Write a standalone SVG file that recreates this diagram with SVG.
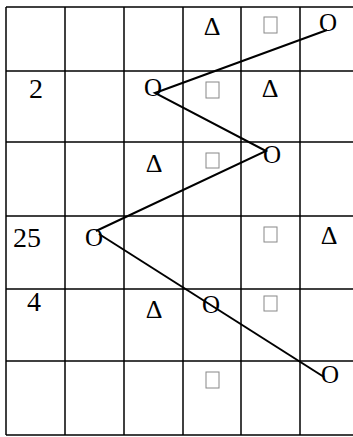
<svg xmlns="http://www.w3.org/2000/svg" width="353" height="437" viewBox="0 0 353 437">
<style>
.g{stroke:#000;stroke-width:1.5;fill:none}
.t{font-family:"Liberation Serif","Times New Roman",serif;font-size:26px;fill:#000;text-anchor:middle}
.o{font-family:"Liberation Serif","Times New Roman",serif;font-size:25px;fill:#000;text-anchor:middle}
.n{font-family:"Liberation Serif","Times New Roman",serif;font-size:28px;fill:#000;text-anchor:middle}
.sq{fill:none;stroke:#888;stroke-width:1}
.c{stroke:#000;stroke-width:2;fill:none}
</style>
<rect width="353" height="437" fill="#fff"/>
<g id="grid" class="g">
<line x1="6" y1="7" x2="6" y2="435"/>
<line x1="65" y1="7" x2="65" y2="435"/>
<line x1="124" y1="7" x2="124" y2="435"/>
<line x1="183" y1="7" x2="183" y2="435"/>
<line x1="241" y1="7" x2="241" y2="435"/>
<line x1="300" y1="7" x2="300" y2="435"/>
<line x1="6" y1="7" x2="353" y2="7"/>
<line x1="6" y1="71" x2="353" y2="71"/>
<line x1="6" y1="142" x2="353" y2="142"/>
<line x1="6" y1="216" x2="353" y2="216"/>
<line x1="6" y1="289" x2="353" y2="289"/>
<line x1="6" y1="361" x2="353" y2="361"/>
<line x1="6" y1="435" x2="353" y2="435"/>
</g>
<g id="connectors" class="c">
<polyline points="327,30 155,93 266,151 96,231"/>
<line x1="99" y1="234" x2="324" y2="377"/>
</g>
<g id="labels">
<g id="n2"><text class="n" x="36" y="98">2</text></g>
<g id="n25"><text class="n" x="27" y="247">25</text></g>
<g id="n4"><text class="n" x="34" y="311">4</text></g>
</g>
<g id="triangles">
<g id="d1"><text class="t" x="212" y="35">Δ</text></g>
<g id="d2"><text class="t" x="270" y="97">Δ</text></g>
<g id="d3"><text class="t" x="154" y="172">Δ</text></g>
<g id="d4"><text class="t" x="329" y="244">Δ</text></g>
<g id="d5"><text class="t" x="154" y="318">Δ</text></g>
</g>
<g id="squares">
<g id="s1"><rect class="sq" x="264" y="17" width="13" height="16"/></g>
<g id="s2"><rect class="sq" x="206" y="82" width="13" height="16"/></g>
<g id="s3"><rect class="sq" x="206" y="153" width="13" height="15"/></g>
<g id="s4"><rect class="sq" x="264" y="227" width="13" height="15"/></g>
<g id="s5"><rect class="sq" x="264" y="296" width="13" height="15"/></g>
<g id="s6"><rect class="sq" x="206" y="372" width="13" height="16"/></g>
</g>
<g id="circles">
<g id="o1"><text class="o" x="328" y="31">O</text></g>
<g id="o2"><text class="o" x="153" y="96">O</text></g>
<g id="o3"><text class="o" x="272" y="163">O</text></g>
<g id="o4"><text class="o" x="94" y="246">O</text></g>
<g id="o5"><text class="o" x="211" y="313">O</text></g>
<g id="o6"><text class="o" x="330" y="383">O</text></g>
</g>
</svg>
